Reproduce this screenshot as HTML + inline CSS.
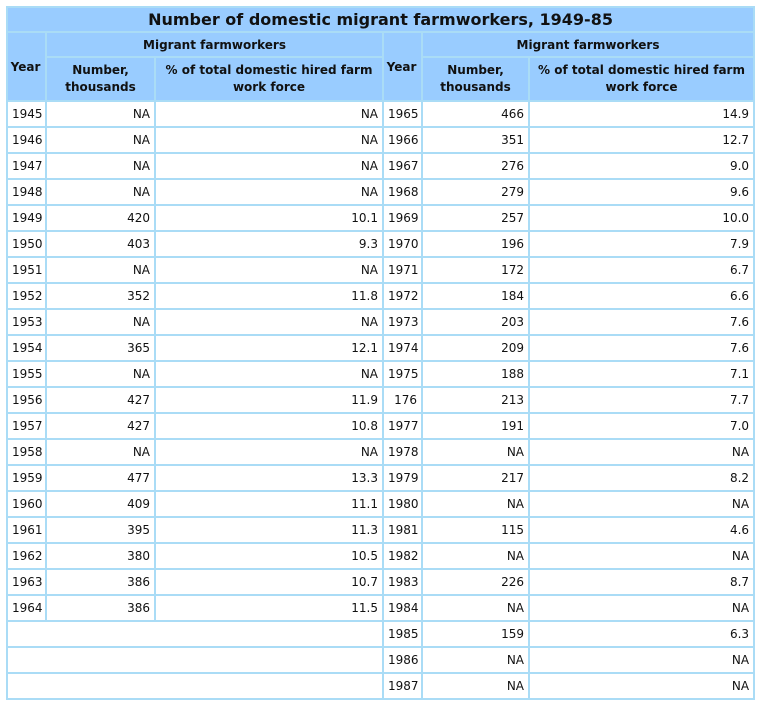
<!DOCTYPE html>
<html><head><meta charset="utf-8"><style>
body{margin:0;background:#fff;}
table{position:absolute;left:6px;top:6px;border-collapse:collapse;table-layout:fixed;width:747px;font-family:"DejaVu Sans",Verdana,sans-serif;font-size:12px;color:#111;}
td,th{border:2px solid #aadcf6;padding:0 4px;overflow:hidden;white-space:nowrap;}
th{background:#99ccff;font-weight:bold;font-size:12px;}
th.t{font-size:16px;height:23px;}
tr.h1 th{height:23px;}
tr.h2 th{height:42px;white-space:normal;line-height:17px;}
td{height:24px;}
td.n{text-align:right;}
td.y{text-align:left;}
</style></head><body>
<table>
<colgroup><col style="width:39px"><col style="width:109px"><col style="width:228px"><col style="width:39px"><col style="width:107px"><col style="width:225px"></colgroup>
<tr><th class="t" colspan="6">Number of domestic migrant farmworkers, 1949-85</th></tr>
<tr class="h1"><th rowspan="2" style="vertical-align:middle;padding-left:2px">Year</th><th colspan="2">Migrant farmworkers</th><th rowspan="2" style="vertical-align:middle;padding-left:2px">Year</th><th colspan="2">Migrant farmworkers</th></tr>
<tr class="h2"><th>Number, thousands</th><th>% of total domestic hired farm work force</th><th>Number, thousands</th><th>% of total domestic hired farm work force</th></tr>
<tr><td class="y">1945</td><td class="n">NA</td><td class="n">NA</td><td class="y">1965</td><td class="n">466</td><td class="n">14.9</td></tr>
<tr><td class="y">1946</td><td class="n">NA</td><td class="n">NA</td><td class="y">1966</td><td class="n">351</td><td class="n">12.7</td></tr>
<tr><td class="y">1947</td><td class="n">NA</td><td class="n">NA</td><td class="y">1967</td><td class="n">276</td><td class="n">9.0</td></tr>
<tr><td class="y">1948</td><td class="n">NA</td><td class="n">NA</td><td class="y">1968</td><td class="n">279</td><td class="n">9.6</td></tr>
<tr><td class="y">1949</td><td class="n">420</td><td class="n">10.1</td><td class="y">1969</td><td class="n">257</td><td class="n">10.0</td></tr>
<tr><td class="y">1950</td><td class="n">403</td><td class="n">9.3</td><td class="y">1970</td><td class="n">196</td><td class="n">7.9</td></tr>
<tr><td class="y">1951</td><td class="n">NA</td><td class="n">NA</td><td class="y">1971</td><td class="n">172</td><td class="n">6.7</td></tr>
<tr><td class="y">1952</td><td class="n">352</td><td class="n">11.8</td><td class="y">1972</td><td class="n">184</td><td class="n">6.6</td></tr>
<tr><td class="y">1953</td><td class="n">NA</td><td class="n">NA</td><td class="y">1973</td><td class="n">203</td><td class="n">7.6</td></tr>
<tr><td class="y">1954</td><td class="n">365</td><td class="n">12.1</td><td class="y">1974</td><td class="n">209</td><td class="n">7.6</td></tr>
<tr><td class="y">1955</td><td class="n">NA</td><td class="n">NA</td><td class="y">1975</td><td class="n">188</td><td class="n">7.1</td></tr>
<tr><td class="y">1956</td><td class="n">427</td><td class="n">11.9</td><td class="n">176</td><td class="n">213</td><td class="n">7.7</td></tr>
<tr><td class="y">1957</td><td class="n">427</td><td class="n">10.8</td><td class="y">1977</td><td class="n">191</td><td class="n">7.0</td></tr>
<tr><td class="y">1958</td><td class="n">NA</td><td class="n">NA</td><td class="y">1978</td><td class="n">NA</td><td class="n">NA</td></tr>
<tr><td class="y">1959</td><td class="n">477</td><td class="n">13.3</td><td class="y">1979</td><td class="n">217</td><td class="n">8.2</td></tr>
<tr><td class="y">1960</td><td class="n">409</td><td class="n">11.1</td><td class="y">1980</td><td class="n">NA</td><td class="n">NA</td></tr>
<tr><td class="y">1961</td><td class="n">395</td><td class="n">11.3</td><td class="y">1981</td><td class="n">115</td><td class="n">4.6</td></tr>
<tr><td class="y">1962</td><td class="n">380</td><td class="n">10.5</td><td class="y">1982</td><td class="n">NA</td><td class="n">NA</td></tr>
<tr><td class="y">1963</td><td class="n">386</td><td class="n">10.7</td><td class="y">1983</td><td class="n">226</td><td class="n">8.7</td></tr>
<tr><td class="y">1964</td><td class="n">386</td><td class="n">11.5</td><td class="y">1984</td><td class="n">NA</td><td class="n">NA</td></tr>
<tr><td colspan="3"></td><td class="y">1985</td><td class="n">159</td><td class="n">6.3</td></tr>
<tr><td colspan="3"></td><td class="y">1986</td><td class="n">NA</td><td class="n">NA</td></tr>
<tr><td colspan="3"></td><td class="y">1987</td><td class="n">NA</td><td class="n">NA</td></tr>
</table>
</body></html>
